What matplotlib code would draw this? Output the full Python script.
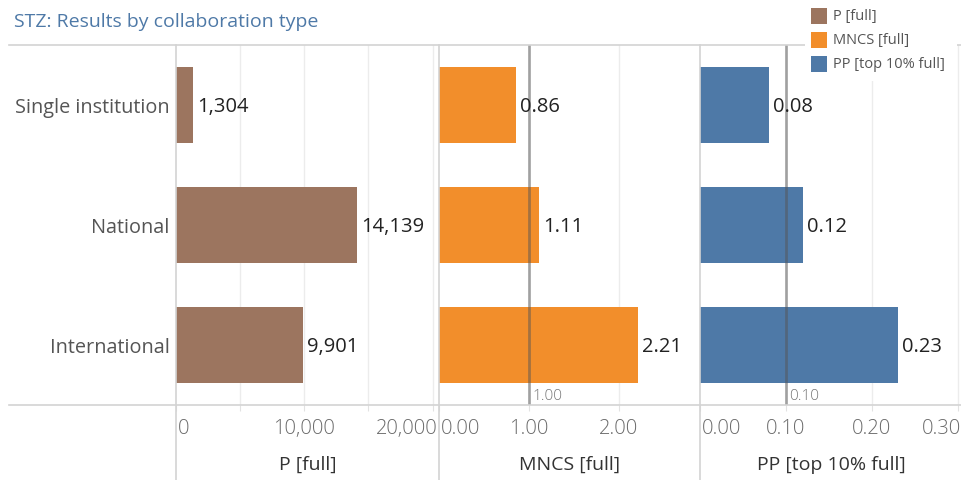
import matplotlib
matplotlib.use("Agg")
import matplotlib.pyplot as plt
from matplotlib.patches import Rectangle
from matplotlib.lines import Line2D
from matplotlib import transforms

# ---- data -------------------------------------------------------------
categories = ["Single institution", "National", "International"]
p_full = [1304, 14139, 9901]
mncs_full = [0.86, 1.11, 2.21]
pp_top10_full = [0.08, 0.12, 0.23]

p_ticks = [0, 10000, 20000]
p_tick_labels = ["0", "10,000", "20,000"]
mncs_ticks = [0.0, 1.0, 2.0]
mncs_tick_labels = ["0.00", "1.00", "2.00"]
pp_ticks = [0.0, 0.1, 0.2, 0.3]
pp_tick_labels = ["0.00", "0.10", "0.20", "0.30"]

mncs_reference = 1.00
pp_reference = 0.10

measure_names = ["P [full]", "MNCS [full]", "PP [top 10% full]"]
title = "STZ: Results by collaboration type"

# ---- style ------------------------------------------------------------
plt.rcParams['font.family'] = ['Open Sans', 'DejaVu Sans']
colors = ["#9c755f", "#f28e2b", "#4e79a7"]
LINE = "#d3d3d3"
GRID = "#ececec"

W, H = 962, 481
fig = plt.figure(figsize=(W / 100, H / 100), dpi=100)

TOP, BOTTOM = 46, 406
panels_px = [(176, 439), (439, 700), (700, 962)]


def px_axes(x0, x1, y0, y1):
    return fig.add_axes([x0 / W, 1 - y1 / H, (x1 - x0) / W, (y1 - y0) / H])


panel_specs = [
    dict(values=p_full, xmax=20500, grid=[5000, 10000, 15000, 20000],
         ticks=p_ticks, tick_labels=p_tick_labels,
         fmt=lambda v: f"{v:,}", ref=None),
    dict(values=mncs_full, xmax=2.9, grid=[1.0, 2.0],
         ticks=mncs_ticks, tick_labels=mncs_tick_labels,
         fmt=lambda v: f"{v:.2f}", ref=mncs_reference),
    dict(values=pp_top10_full, xmax=0.305, grid=[0.1, 0.2, 0.3],
         ticks=pp_ticks, tick_labels=pp_tick_labels,
         fmt=lambda v: f"{v:.2f}", ref=pp_reference),
]

rows = list(range(len(categories)))
plot_h = BOTTOM - TOP

for k, (spec, (x0, x1)) in enumerate(zip(panel_specs, panels_px)):
    ax = px_axes(x0, x1, TOP, BOTTOM)
    ax.set_xlim(0, spec["xmax"])
    ax.set_ylim(len(categories) - 0.5, -0.5)
    for s in ax.spines.values():
        s.set_visible(False)
    ax.patch.set_alpha(0)

    for g in spec["grid"]:
        ax.axvline(g, color=GRID, lw=1, zorder=0)

    ax.barh(rows, spec["values"], height=0.635, color=colors[k], zorder=2)

    for i, v in enumerate(spec["values"]):
        ax.annotate(spec["fmt"](v), (v, i), xytext=(4, -1),
                    textcoords="offset pixels", ha="left", va="center",
                    fontsize=14.5, color="#222222", zorder=4)

    # tick marks below the axis line
    ax.set_xticks([0] + spec["grid"])
    ax.tick_params(axis="x", direction="out", length=4, color="#e2e2e2",
                   labelbottom=False)

    # tick labels, kept inside the pane at the edges
    blend = transforms.blended_transform_factory(ax.transData, ax.transAxes)
    label_y = -(429 - BOTTOM) / plot_h
    last = len(spec["ticks"]) - 1
    for j, (t, lab) in enumerate(zip(spec["ticks"], spec["tick_labels"])):
        if j == 0:
            xpos, ha, dx = t, "left", 2
        elif j == last and t > 0.95 * spec["xmax"]:
            xpos, ha, dx = spec["xmax"], "right", -1
        else:
            xpos, ha, dx = t, "center", 0
        tr = blend + transforms.ScaledTranslation(dx / 100, 0, fig.dpi_scale_trans)
        ax.text(xpos, label_y, lab, transform=tr, ha=ha, va="center",
                fontsize=14.5, fontweight="light", color="#6a6a6a",
                clip_on=False)

    ax.text(0.5, -(465 - BOTTOM) / plot_h, measure_names[k],
            transform=ax.transAxes, ha="center", va="center",
            fontsize=14, color="#333333", clip_on=False)

    if k == 0:
        ax.set_yticks(rows)
        ax.set_yticklabels(categories, fontsize=14.3, color="#555555")
        ax.tick_params(axis="y", length=0, pad=4.5)
    else:
        ax.set_yticks([])

    if spec["ref"] is not None:
        ax.axvline(spec["ref"], color="#555555", alpha=0.5, lw=2, zorder=3)
        tr = blend + transforms.ScaledTranslation(3 / 100, 1.5 / 100,
                                                  fig.dpi_scale_trans)
        ax.text(spec["ref"], 0.0, f"{spec['ref']:.2f}", transform=tr,
                ha="left", va="bottom", fontsize=11, fontweight="light",
                color="#777777", zorder=4, clip_on=False,
                bbox=dict(fc="white", ec="none", pad=1.0))

# ---- frame lines ------------------------------------------------------
def fig_line(xs, ys, **kw):
    fig.add_artist(Line2D([x / W for x in xs], [1 - y / H for y in ys],
                          color=LINE, lw=1.2, zorder=1, **kw))


fig_line([9, W], [TOP, TOP])
fig_line([9, W], [BOTTOM, BOTTOM])
for x in (176, 439, 700):
    fig_line([x, x], [TOP, H])

# ---- title ------------------------------------------------------------
fig.text(14 / W, 1 - 22 / H, title, ha="left", va="center",
         fontsize=14, color="#4e79a7")

# ---- legend -----------------------------------------------------------
fig.add_artist(Rectangle((805 / W, 1 - 82 / H), 152 / W, 82 / H,
                         transform=fig.transFigure, fc="white", ec="none",
                         zorder=5))
for i, (name, c) in enumerate(zip(measure_names, colors)):
    yc = 16.5 + 24 * i
    fig.add_artist(Rectangle((811 / W, 1 - (yc + 8) / H), 16 / W, 16 / H,
                             transform=fig.transFigure, fc=c, ec="none",
                             zorder=6))
    fig.text(833 / W, 1 - yc / H, name, ha="left", va="center",
             fontsize=10.5, color="#555555", zorder=6)

fig.savefig("out.png", dpi=100)
